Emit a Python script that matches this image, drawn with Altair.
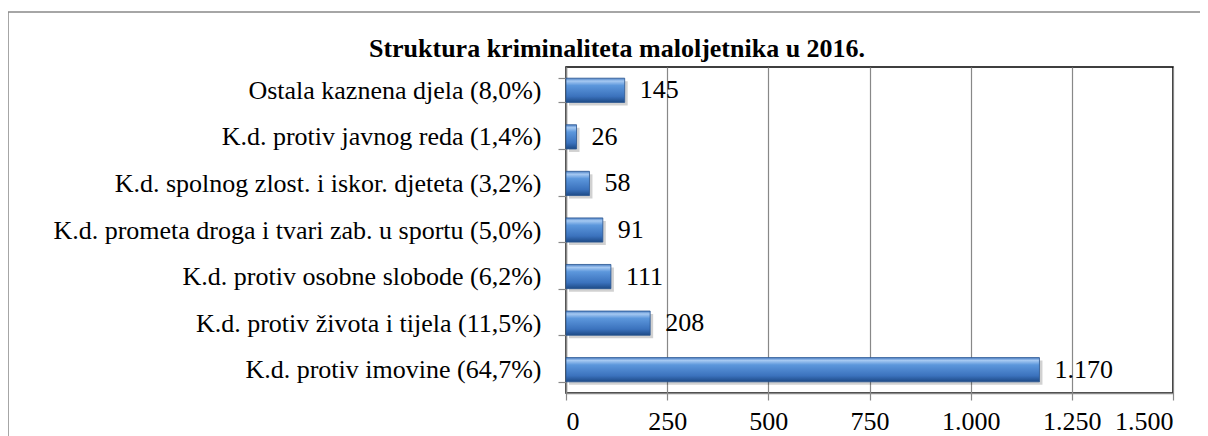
import altair as alt
import pandas as pd

categories = [
    "Ostala kaznena djela (8,0%)",
    "K.d. protiv javnog reda (1,4%)",
    "K.d. spolnog zlost. i iskor. djeteta (3,2%)",
    "K.d. prometa droga i tvari zab. u sportu (5,0%)",
    "K.d. protiv osobne slobode (6,2%)",
    "K.d. protiv života i tijela (11,5%)",
    "K.d. protiv imovine (64,7%)",
]
values = [145, 26, 58, 91, 111, 208, 1170]
ticks = [0, 250, 500, 750, 1000, 1250, 1500]
title_text = "Struktura kriminaliteta maloljetnika u 2016."

df = pd.DataFrame({"cat": categories, "v": values})

FONT = "'Liberation Serif', 'Times New Roman', 'DejaVu Serif', serif"
FS = 26

y_enc = alt.Y("cat:N", sort=categories, title=None,
              scale=alt.Scale(paddingInner=0.48, paddingOuter=0.24),
              axis=alt.Axis(labelFont=FONT, labelFontSize=FS, labelColor="black",
                            labelPadding=17, tickSize=8, tickColor="#888888",
                            domainColor="#888888", labelLimit=700, grid=False,
                            bandPosition=0, tickBand="extent"))
x_enc = alt.X("v:Q", title=None,
              scale=alt.Scale(domain=[0, 1500], nice=False),
              axis=alt.Axis(values=ticks, labelFont=FONT, labelFontSize=FS,
                            labelColor="black", labelPadding=8, tickSize=7,
                            tickColor="#888888", domainColor="#888888",
                            gridColor="#888888", gridWidth=1.2,
                            labelExpr="replace(format(datum.value, ','), /,/g, '.')"))

base = alt.Chart(df)

shadow = base.mark_bar(color="#000000", opacity=0.18, xOffset=3, yOffset=3).encode(
    x=x_enc, y=y_enc)

bars = base.mark_bar(
    color=alt.Gradient(
        gradient="linear", x1=0, y1=0, x2=0, y2=1,
        stops=[
            alt.GradientStop(offset=0, color="#4a7fc4"),
            alt.GradientStop(offset=0.12, color="#a6c9f2"),
            alt.GradientStop(offset=0.3, color="#5c97dc"),
            alt.GradientStop(offset=0.75, color="#3b72bd"),
            alt.GradientStop(offset=1, color="#1d4a86"),
        ],
    ),
    stroke="#2a5590", strokeWidth=0.8,
).encode(x=x_enc, y=y_enc)

labels = base.mark_text(align="left", baseline="middle", dx=15, font=FONT,
                        fontSize=FS, color="black").transform_calculate(
    lab="replace(format(datum.v, ','), /,/g, '.')"
).encode(x=x_enc, y=y_enc, text="lab:N")

one = pd.DataFrame({"t": [title_text]})
title = alt.Chart(one).mark_text(font=FONT, fontSize=FS, fontWeight="bold",
                                 color="black", align="center",
                                 baseline="alphabetic").encode(
    x=alt.value(51), y=alt.value(-10), text="t:N")

border = alt.Chart(one).mark_rule(color="#888888", strokeWidth=1.5).encode(
    x=alt.value(-558), x2=alt.value(900), y=alt.value(-55))
border_left = alt.Chart(one).mark_rule(color="#888888", strokeWidth=1.5).encode(
    x=alt.value(-558), y=alt.value(-55), y2=alt.value(600))

chart = alt.layer(shadow, bars, labels, title, border, border_left).properties(
    width=607, height=326,
    autosize=alt.AutoSizeParams(type="none"),
    padding={"left": 558, "top": 59, "right": 27, "bottom": 45},
).configure_view(stroke="black", strokeWidth=1.5).configure_axis(
    domainWidth=1.5, tickWidth=1.2)

chart.save("out.html", embed_options={"renderer": "svg", "actions": False})
